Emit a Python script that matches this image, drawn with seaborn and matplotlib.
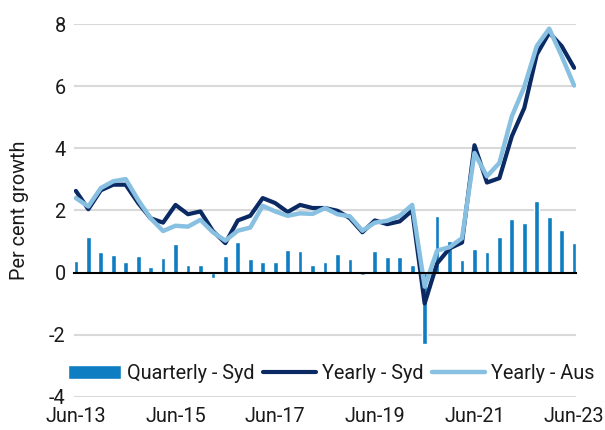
import numpy as np
import pandas as pd
import matplotlib
matplotlib.use("Agg")
import matplotlib.pyplot as plt
import seaborn as sns

# ---- data ----
quarters = pd.period_range("2013Q2", "2023Q2", freq="Q")
quarter_labels = [f"{['Mar','Jun','Sep','Dec'][p.quarter-1]}-{str(p.year)[2:]}" for p in quarters]

quarterly_syd = [0.38, 1.14, 0.65, 0.57, 0.35, 0.54, 0.17, 0.46, 0.91, 0.26,
                 0.26, -0.18, 0.54, 1.00, 0.44, 0.33, 0.33, 0.72, 0.70, 0.25,
                 0.33, 0.60, 0.43, -0.09, 0.70, 0.51, 0.51, 0.24, -2.31, 1.83,
                 1.02, 0.41, 0.75, 0.65, 1.15, 1.73, 1.60, 2.30, 1.78, 1.38, 0.96]

yearly_syd = [2.63, 2.04, 2.65, 2.83, 2.83, 2.24, 1.75, 1.61, 2.18, 1.88,
              1.97, 1.34, 0.95, 1.68, 1.83, 2.40, 2.24, 1.95, 2.18, 2.08,
              2.08, 1.99, 1.75, 1.30, 1.68, 1.56, 1.65, 2.00, -0.99, 0.30,
              0.78, 0.97, 4.10, 2.90, 3.04, 4.39, 5.30, 7.02, 7.72, 7.29, 6.59]

yearly_aus = [2.40, 2.13, 2.72, 2.94, 3.01, 2.34, 1.75, 1.34, 1.51, 1.48,
              1.70, 1.30, 1.03, 1.35, 1.45, 2.15, 1.97, 1.83, 1.91, 1.89,
              2.08, 1.88, 1.81, 1.35, 1.61, 1.67, 1.83, 2.18, -0.45, 0.71,
              0.82, 1.11, 3.85, 3.10, 3.53, 5.03, 5.98, 7.29, 7.85, 6.97, 6.02]

y_ticks = [-4, -2, 0, 2, 4, 6, 8]
x_tick_labels = ["Jun-13", "Jun-15", "Jun-17", "Jun-19", "Jun-21", "Jun-23"]

series_names = ["Quarterly - Syd", "Yearly - Syd", "Yearly - Aus"]

# ---- styling ----
BAR_C = "#0E7DC2"
SYD_C = "#0B2A63"
AUS_C = "#88C0E2"
GRID_C = "#D9D9D9"
TXT_C = "#1a1a1a"
FS = 14.3

sns.set_theme(style="white")
plt.rcParams["font.family"] = ["Roboto", "DejaVu Sans"]

df = pd.DataFrame({"idx": np.arange(len(quarters)), "label": quarter_labels,
                   "q": quarterly_syd, "ys": yearly_syd, "ya": yearly_aus})

fig = plt.figure(figsize=(6.05, 4.30), dpi=100)
ax = fig.add_axes([74/605, 1 - 397/430, 502/605, 373/430])

sns.barplot(data=df, x="idx", y="q", native_scale=True, width=0.38,
            color=BAR_C, saturation=1, ax=ax, label=series_names[0], zorder=2)
sns.lineplot(data=df, x="idx", y="ys", color=SYD_C, lw=3, ax=ax,
             label=series_names[1], zorder=3)
sns.lineplot(data=df, x="idx", y="ya", color=AUS_C, lw=3.2, ax=ax,
             label=series_names[2], zorder=4)

ax.set_ylim(-4, 8)
ax.set_xlim(-0.15, len(quarters) - 1 + 0.15)
ax.set_yticks(y_ticks)
ax.set_yticklabels([str(v) for v in y_ticks], fontsize=FS, color=TXT_C)
ax.tick_params(axis="y", length=0, pad=6)
for v in y_ticks:
    if v != 0:
        ax.axhline(v, color=GRID_C, lw=1.5, zorder=0)

for s in ["left", "right", "top"]:
    ax.spines[s].set_visible(False)
ax.spines["bottom"].set_position(("data", 0))
ax.spines["bottom"].set_color("black")
ax.spines["bottom"].set_linewidth(1.5)
ax.spines["bottom"].set_zorder(5)

tick_pos = [quarter_labels.index(l) for l in x_tick_labels]
ax.set_xticks(tick_pos)
ax.set_xticklabels([])
ax.tick_params(axis="x", direction="in", length=5, width=1.5, color="black")

sec = ax.secondary_xaxis(0)
sec.set_xticks(tick_pos)
sec.set_xticklabels(x_tick_labels, fontsize=FS, color=TXT_C)
sec.tick_params(length=0, pad=7)
sec.spines["bottom"].set_visible(False)

ax.set_xlabel("")
ax.set_ylabel("Per cent growth", fontsize=FS, color=TXT_C, labelpad=14)

h, l = ax.get_legend_handles_labels()
order = [l.index(n) for n in series_names]
ax.legend([h[i] for i in order], [l[i] for i in order], loc="center",
          bbox_to_anchor=(0.512, 0.0635), ncol=3, frameon=False, fontsize=FS,
          handlelength=2.65, handletextpad=0.3, columnspacing=0.45, borderpad=0,
          labelcolor=TXT_C)

fig.savefig("out.png", dpi=100)
